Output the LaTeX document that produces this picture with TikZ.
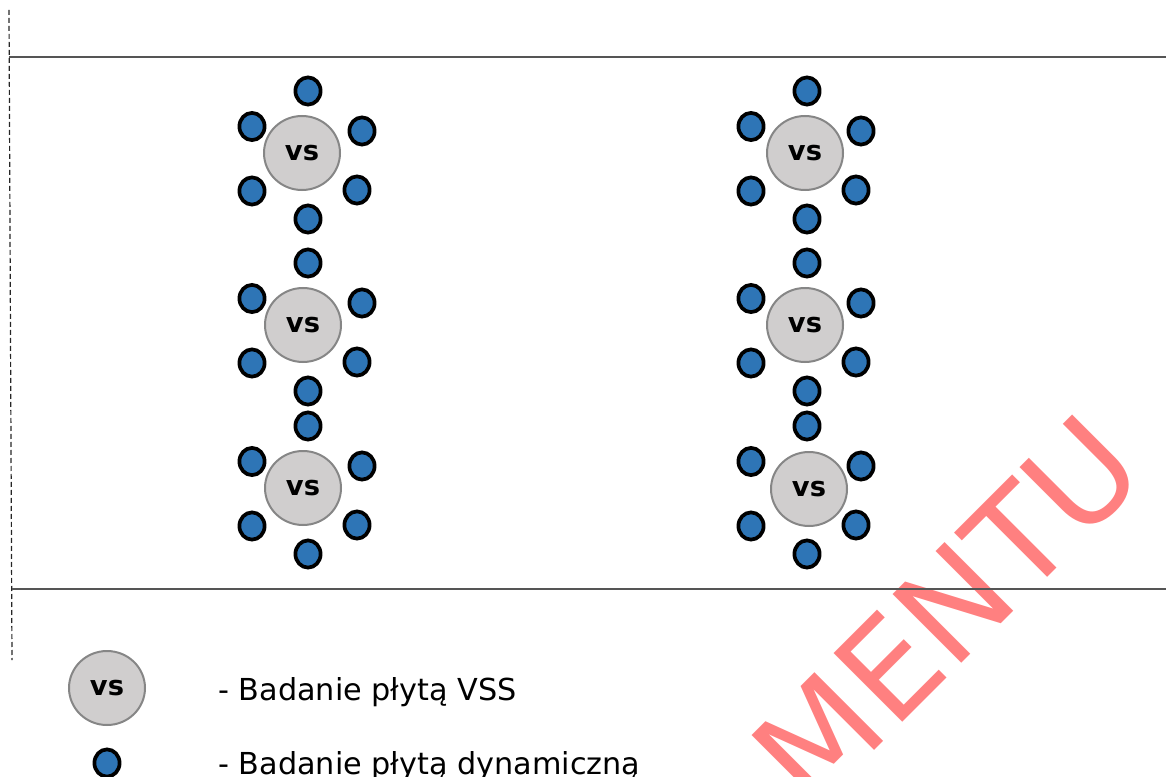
\documentclass[tikz,border=0pt]{standalone}
\usepackage{fontspec}
\setmainfont{DejaVu Sans}
\usetikzlibrary{shapes.geometric,calc}
\definecolor{vsfill}{RGB}{208,206,206}
\definecolor{vsborder}{RGB}{134,134,134}
\definecolor{dotblue}{RGB}{46,117,182}
\definecolor{linegray}{RGB}{85,85,85}
\definecolor{wmpink}{RGB}{255,128,128}
\begin{document}
\begin{tikzpicture}[x=0.75pt,y=-0.75pt,
  vsnode/.style={ellipse, draw=vsborder, line width=1.5pt, fill=vsfill,
    minimum width=57pt, minimum height=55.5pt, inner sep=0pt, font=\bfseries\fontsize{20.5}{20.5}\selectfont},
  dotnode/.style={ellipse, draw=black, line width=2.8pt, fill=dotblue,
    minimum width=18.9pt, minimum height=20.4pt, inner sep=0pt},
  rule/.style={draw=linegray, line width=1.6pt},
  guide/.style={draw=black!85, line width=0.9pt, dash pattern=on 3.75pt off 2.25pt},
  legendtext/.style={anchor=base west, inner sep=0pt, font=\fontsize{22.7}{22.7}\selectfont},
  wm/.style={text=wmpink, font=\fontsize{100}{100}\selectfont, inner sep=0pt}]
\useasboundingbox (0,0) rectangle (1166,777);
% watermark
\begin{scope}
\clip (0,0) rectangle (1166,777);
\node[wm, rotate=45, anchor=base east] (wmark) at (1150,475) {MENTU};
\end{scope}
% frame lines
\coordinate (gtop) at (9,10);
\coordinate (gbot) at (12,660);
\draw[guide] (gtop) -- (gbot);
\coordinate (r1a) at (9,57);
\coordinate (r1b) at (1166,57);
\coordinate (r2a) at (12,589);
\coordinate (r2b) at (1166,589);
\draw[rule] (r1a) -- (r1b);
\draw[rule] (r2a) -- (r2b);
% groups: name / vs x / vs y / dot base x / dot base y
\foreach \n/\vx/\vy/\bx/\by in {a/302/153/302/153, b/303/325/302/325, c/303/488/302/488,
                                d/805/153/801/153, e/805/325/801/325, f/809/489/801/488}{
  \node[vsnode] (vs\n) at (\vx,\vy) {vs};
  \node[dotnode] (\n t)  at ($(\bx,\by)+(6,-62)$) {};
  \node[dotnode] (\n ul) at ($(\bx,\by)+(-50,-26.5)$) {};
  \node[dotnode] (\n ur) at ($(\bx,\by)+(60,-22)$) {};
  \node[dotnode] (\n ll) at ($(\bx,\by)+(-50,38)$) {};
  \node[dotnode] (\n lr) at ($(\bx,\by)+(55,37)$) {};
  \node[dotnode] (\n b)  at ($(\bx,\by)+(6,66)$) {};
}
% legend
\node[vsnode] (legvs) at (107,688) {vs};
\node[dotnode] (legdot) at (107,763) {};
\node[legendtext] (legt1) at (218,700.5) {- Badanie płytą VSS};
\node[legendtext] (legt2) at (218,774.5) {- Badanie płytą dynamiczną};
\end{tikzpicture}
\end{document}
